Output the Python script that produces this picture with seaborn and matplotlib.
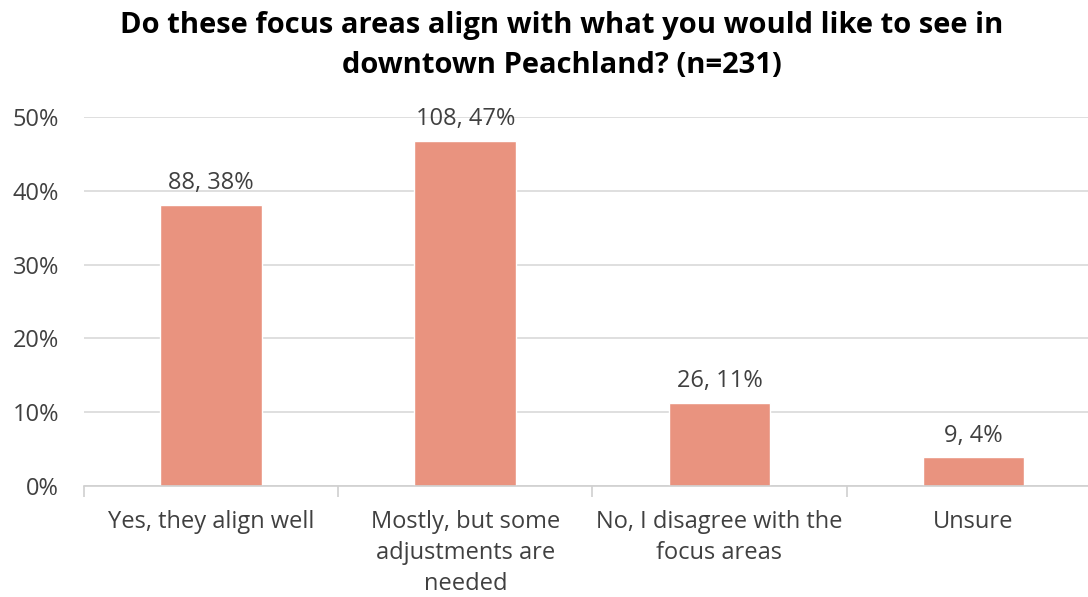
import numpy as np
import pandas as pd
import seaborn as sns
import matplotlib.pyplot as plt

# Survey responses (n=231)
categories = ["Yes, they align well",
              "Mostly, but some\nadjustments are\nneeded",
              "No, I disagree with the\nfocus areas",
              "Unsure"]
counts = [88, 108, 26, 9]
pct_labels = ["38%", "47%", "11%", "4%"]
total = 231

df = pd.DataFrame({"Response": categories, "Count": counts})
df["Percent"] = df["Count"] / total * 100

sns.set_style("white")
plt.rcParams['font.family'] = ['Open Sans', 'DejaVu Sans']
text_col = "#404040"

fig = plt.figure(figsize=(10.88, 5.97), dpi=100)
ax = fig.add_axes([84/1088, 111/597, 1004/1088, 369/597])

sns.barplot(data=df, x="Response", y="Percent", color="#E9937F",
            width=0.4, saturation=1, ax=ax)

for i, (c, p) in enumerate(zip(counts, pct_labels)):
    ax.annotate(f"{c}, {p}", (i, df["Percent"][i]), xytext=(0, 7),
                textcoords="offset points", ha="center", va="bottom",
                fontsize=17, color=text_col)

ax.set_yticks(np.arange(0, 51, 10))
ax.set_yticklabels([f"{v}%" for v in range(0, 51, 10)])
ax.yaxis.grid(True, color="#D9D9D9", linewidth=1.2)
ax.set_axisbelow(True)

for s in ["top", "right", "left"]:
    ax.spines[s].set_visible(False)
ax.spines["bottom"].set_color("#D0D0D0")
ax.spines["bottom"].set_linewidth(1.2)

# small tick marks between categories
ax.set_xticks([-0.5, 0.5, 1.5, 2.5, 3.5], minor=True)
ax.tick_params(axis="x", which="minor", bottom=True, length=8,
               color="#D0D0D0", width=1.2)
ax.tick_params(axis="x", which="major", bottom=True, length=0, pad=17,
               labelsize=17, labelcolor=text_col)
ax.tick_params(axis="y", length=0, pad=18, labelsize=17, labelcolor=text_col)
for lab in ax.get_xticklabels():
    lab.set_linespacing(1.39)

# plot area runs a bit past the right edge of the image
ax.set_ylim(0, 50)
ax.set_xlim(-0.5, 3.45)

ax.set_xlabel("")
ax.set_ylabel("")
fig.suptitle("Do these focus areas align with what you would like to see in\ndowntown Peachland? (n=231)",
             x=0.516, y=0.982, fontsize=21, fontweight="bold", color="black",
             linespacing=1.5)

plt.savefig("out.png", dpi=100)
